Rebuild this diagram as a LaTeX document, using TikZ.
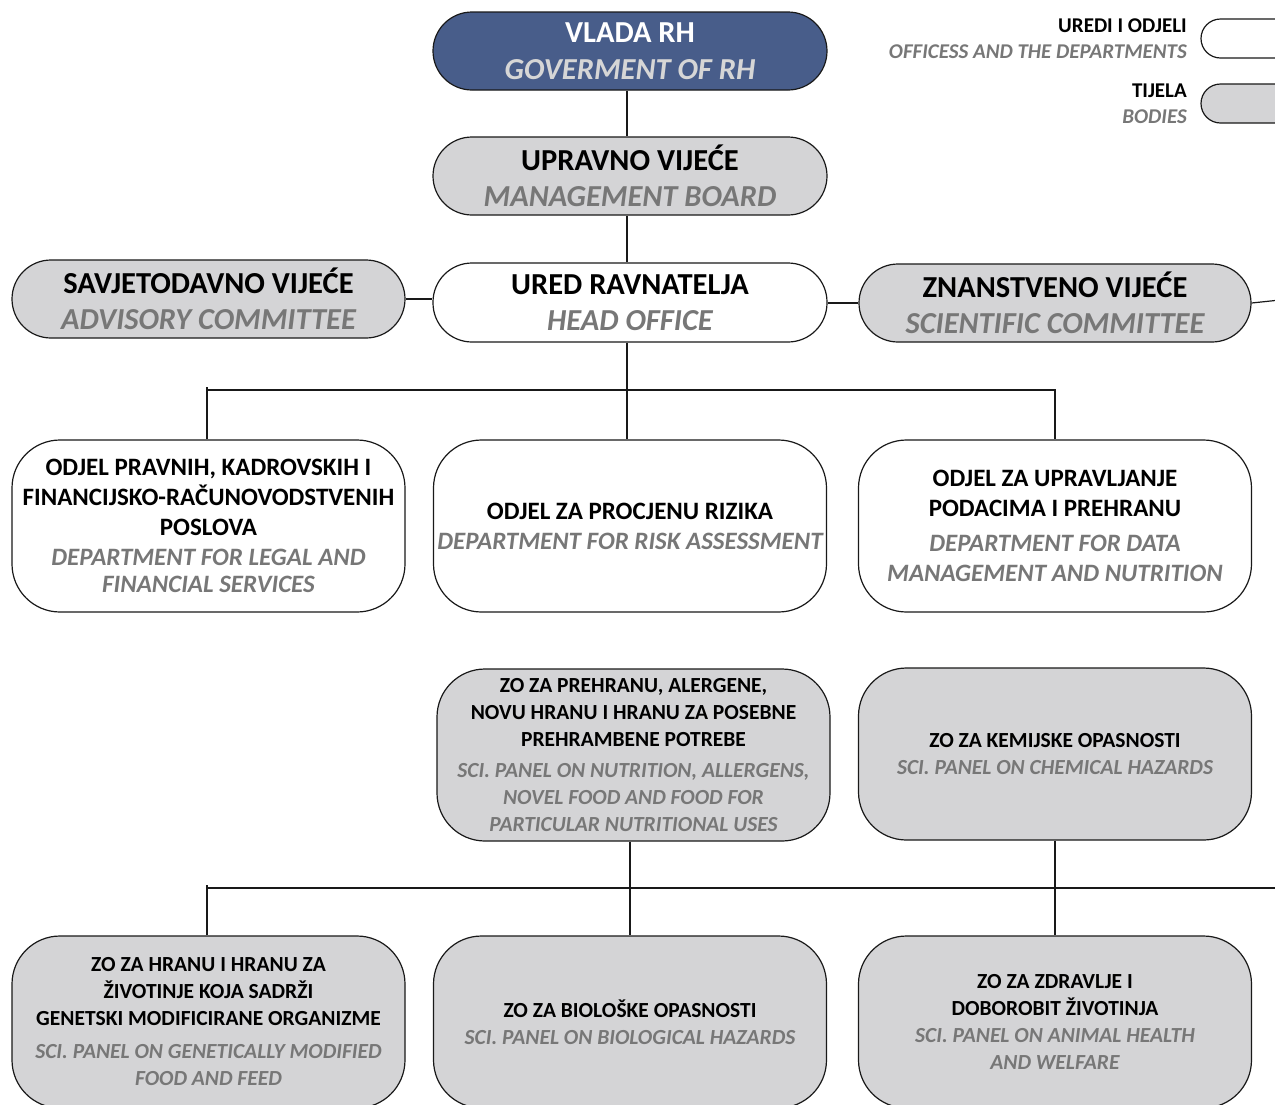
\documentclass[tikz,border=0pt]{standalone}
\usepackage{fontspec}
\setmainfont{Carlito}[BoldItalicFont={Carlito Bold Italic}]
\definecolor{govblue}{HTML}{485D8A}
\definecolor{bodygray}{HTML}{D4D4D6}
\definecolor{engray}{HTML}{777777}
\definecolor{enlight}{HTML}{D6D6D6}
\newcommand{\en}[1]{{\bfseries\itshape\color{engray}#1}}
\newcommand{\enl}[1]{{\bfseries\itshape\color{enlight}#1}}
\begin{document}
\begin{tikzpicture}[x=1pt,y=-1pt,
  boxbase/.style={draw=black!90, line width=1.2pt, align=center, inner sep=0pt, font=\bfseries},
  pill/.style={boxbase, minimum width=394pt, minimum height=78pt, rounded corners=39pt, font=\bfseries\fontsize{30.5}{36.5}\selectfont},
  dept/.style={boxbase, minimum width=393pt, minimum height=172pt, rounded corners=48pt, font=\bfseries\fontsize{25}{30}\selectfont},
  panel/.style={boxbase, fill=bodygray, minimum width=393pt, minimum height=172pt, rounded corners=48pt, font=\bfseries\fontsize{21.5}{27}\selectfont},
  legbox/.style={draw=black!90, line width=1.2pt, minimum width=100pt, minimum height=39pt, rounded corners=19.5pt, inner sep=0pt},
  legtext/.style={anchor=east, align=right, inner sep=0pt, font=\bfseries\fontsize{21}{26}\selectfont},
  conn/.style={draw=black!90, line width=1.2pt}
]
\useasboundingbox (0,0) rectangle (1275,1104);
\clip (0,0) rectangle (1275,1104);

% legend
\node[legbox, fill=white] (legw) at (1251,38.5) {};
\node[legbox, fill=bodygray] (legg) at (1251,103.5) {};
\node[legtext] (legwt) at (1187,38.5) {UREDI I ODJELI\\\en{OFFICESS AND THE DEPARTMENTS}};
\node[legtext] (leggt) at (1187,103.5) {TIJELA\\\en{BODIES}};

% top
\node[pill, fill=govblue, text=white] (vlada) at (630,51) {VLADA RH\\\enl{GOVERMENT OF RH}};
\node[pill, fill=bodygray] (upr) at (630,176) {UPRAVNO VIJEĆE\\\en{MANAGEMENT BOARD}};
\node[pill, fill=white, minimum height=79pt] (ured) at (630,302.5) {URED RAVNATELJA\\\en{HEAD OFFICE}};
\node[pill, fill=bodygray, minimum width=393pt] (sav) at (208.5,299) {SAVJETODAVNO VIJEĆE\\\en{ADVISORY COMMITTEE}};
\node[pill, fill=bodygray, minimum width=392pt] (zn) at (1055,303) {ZNANSTVENO VIJEĆE\\\en{SCIENTIFIC COMMITTEE}};

% departments
\node[dept, fill=white] (d1) at (208.5,526) {ODJEL PRAVNIH, KADROVSKIH I\\FINANCIJSKO-RAČUNOVODSTVENIH\\POSLOVA\\\en{DEPARTMENT FOR LEGAL AND}\\[-3pt]\en{FINANCIAL SERVICES}};
\node[dept, fill=white] (d2) at (630,526) {ODJEL ZA PROCJENU RIZIKA\\\en{DEPARTMENT FOR RISK ASSESSMENT}};
\node[dept, fill=white] (d3) at (1055,526) {ODJEL ZA UPRAVLJANJE\\PODACIMA I PREHRANU\\[5pt]\en{DEPARTMENT FOR DATA}\\\en{MANAGEMENT AND NUTRITION}};

% panels
\node[panel] (p1) at (633.5,755) {ZO ZA PREHRANU, ALERGENE,\\NOVU HRANU I HRANU ZA POSEBNE\\PREHRAMBENE POTREBE\\[4pt]\en{SCI. PANEL ON NUTRITION, ALLERGENS,}\\\en{NOVEL FOOD AND FOOD FOR}\\\en{PARTICULAR NUTRITIONAL USES}};
\node[panel] (p2) at (1055,754) {ZO ZA KEMIJSKE OPASNOSTI\\\en{SCI. PANEL ON CHEMICAL HAZARDS}};
\node[panel] (g1) at (208.5,1022) {ZO ZA HRANU I HRANU ZA\\ŽIVOTINJE KOJA SADRŽI\\GENETSKI MODIFICIRANE ORGANIZME\\[6pt]\en{SCI. PANEL ON GENETICALLY MODIFIED}\\\en{FOOD AND FEED}};
\node[panel] (g2) at (630,1022) {ZO ZA BIOLOŠKE OPASNOSTI\\\en{SCI. PANEL ON BIOLOGICAL HAZARDS}};
\node[panel] (g3) at (1055,1022) {ZO ZA ZDRAVLJE I\\DOBOROBIT ŽIVOTINJA\\\en{SCI. PANEL ON ANIMAL HEALTH}\\\en{AND WELFARE}};

% connectors
\coordinate (bus1) at (627,390);
\coordinate (bus2) at (630,888);
\coordinate (zend) at (1280,300);
\coordinate (bus2end) at (1280,888);
\draw[conn] (vlada.south -| 627,0) -- (upr.north -| 627,0);
\draw[conn] (upr.south -| 627,0) -- (ured.north -| 627,0);
\draw[conn] (ured.south -| 627,0) -- (d2.north -| 627,0);
\draw[conn] (sav.east) -- (ured.west |- sav.east);
\draw[conn] (ured.east |- zn.west) -- (zn.west);
\draw[conn] (zn.east) -- (zend);
\draw[conn] (d1.north -| 207,0) -- (207,387) -- (207,390) -- (bus1) -- (1055,390) -- (d3.north);
\draw[conn] (g2.north |- p1.south) -- (g2.north);
\draw[conn] (p2.south) -- (g3.north);
\draw[conn] (g1.north -| 207,0) -- (207,885) -- (207,888) -- (bus2) -- (bus2end);
\end{tikzpicture}
\end{document}
